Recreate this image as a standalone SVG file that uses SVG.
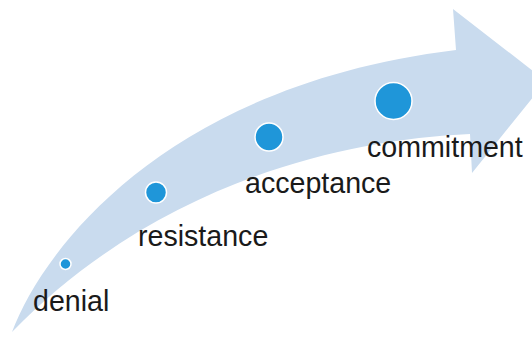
<svg xmlns="http://www.w3.org/2000/svg" width="532" height="340" viewBox="0 0 532 340">
<style>
.band{fill:#c9dbee}
.dot{fill:#1f96d9;stroke:#ffffff;stroke-width:1.5}
.lbl{font-family:"Liberation Sans",Arial,sans-serif;font-size:28.6px;fill:#1a1a1a}
</style>
<rect width="532" height="340" fill="#ffffff"/>
<g id="arrow">
<path class="band" d="M 12 332 C 45 245, 170 85, 456 50 L 453 9 L 546 81 L 472 173 L 470 134 C 330 140, 150 190, 12 332 Z"/>
</g>
<g id="denial"><circle class="dot" cx="65.5" cy="264" r="5.5"/><text class="lbl" x="33" y="311">denial</text></g>
<g id="resistance"><circle class="dot" cx="156" cy="192.5" r="10.5"/><text class="lbl" x="138" y="246">resistance</text></g>
<g id="acceptance"><circle class="dot" cx="269" cy="137" r="14"/><text class="lbl" x="245" y="193">acceptance</text></g>
<g id="commitment"><circle class="dot" cx="393.5" cy="101" r="18.5"/><text class="lbl" x="367" y="157">commitment</text></g>
</svg>
